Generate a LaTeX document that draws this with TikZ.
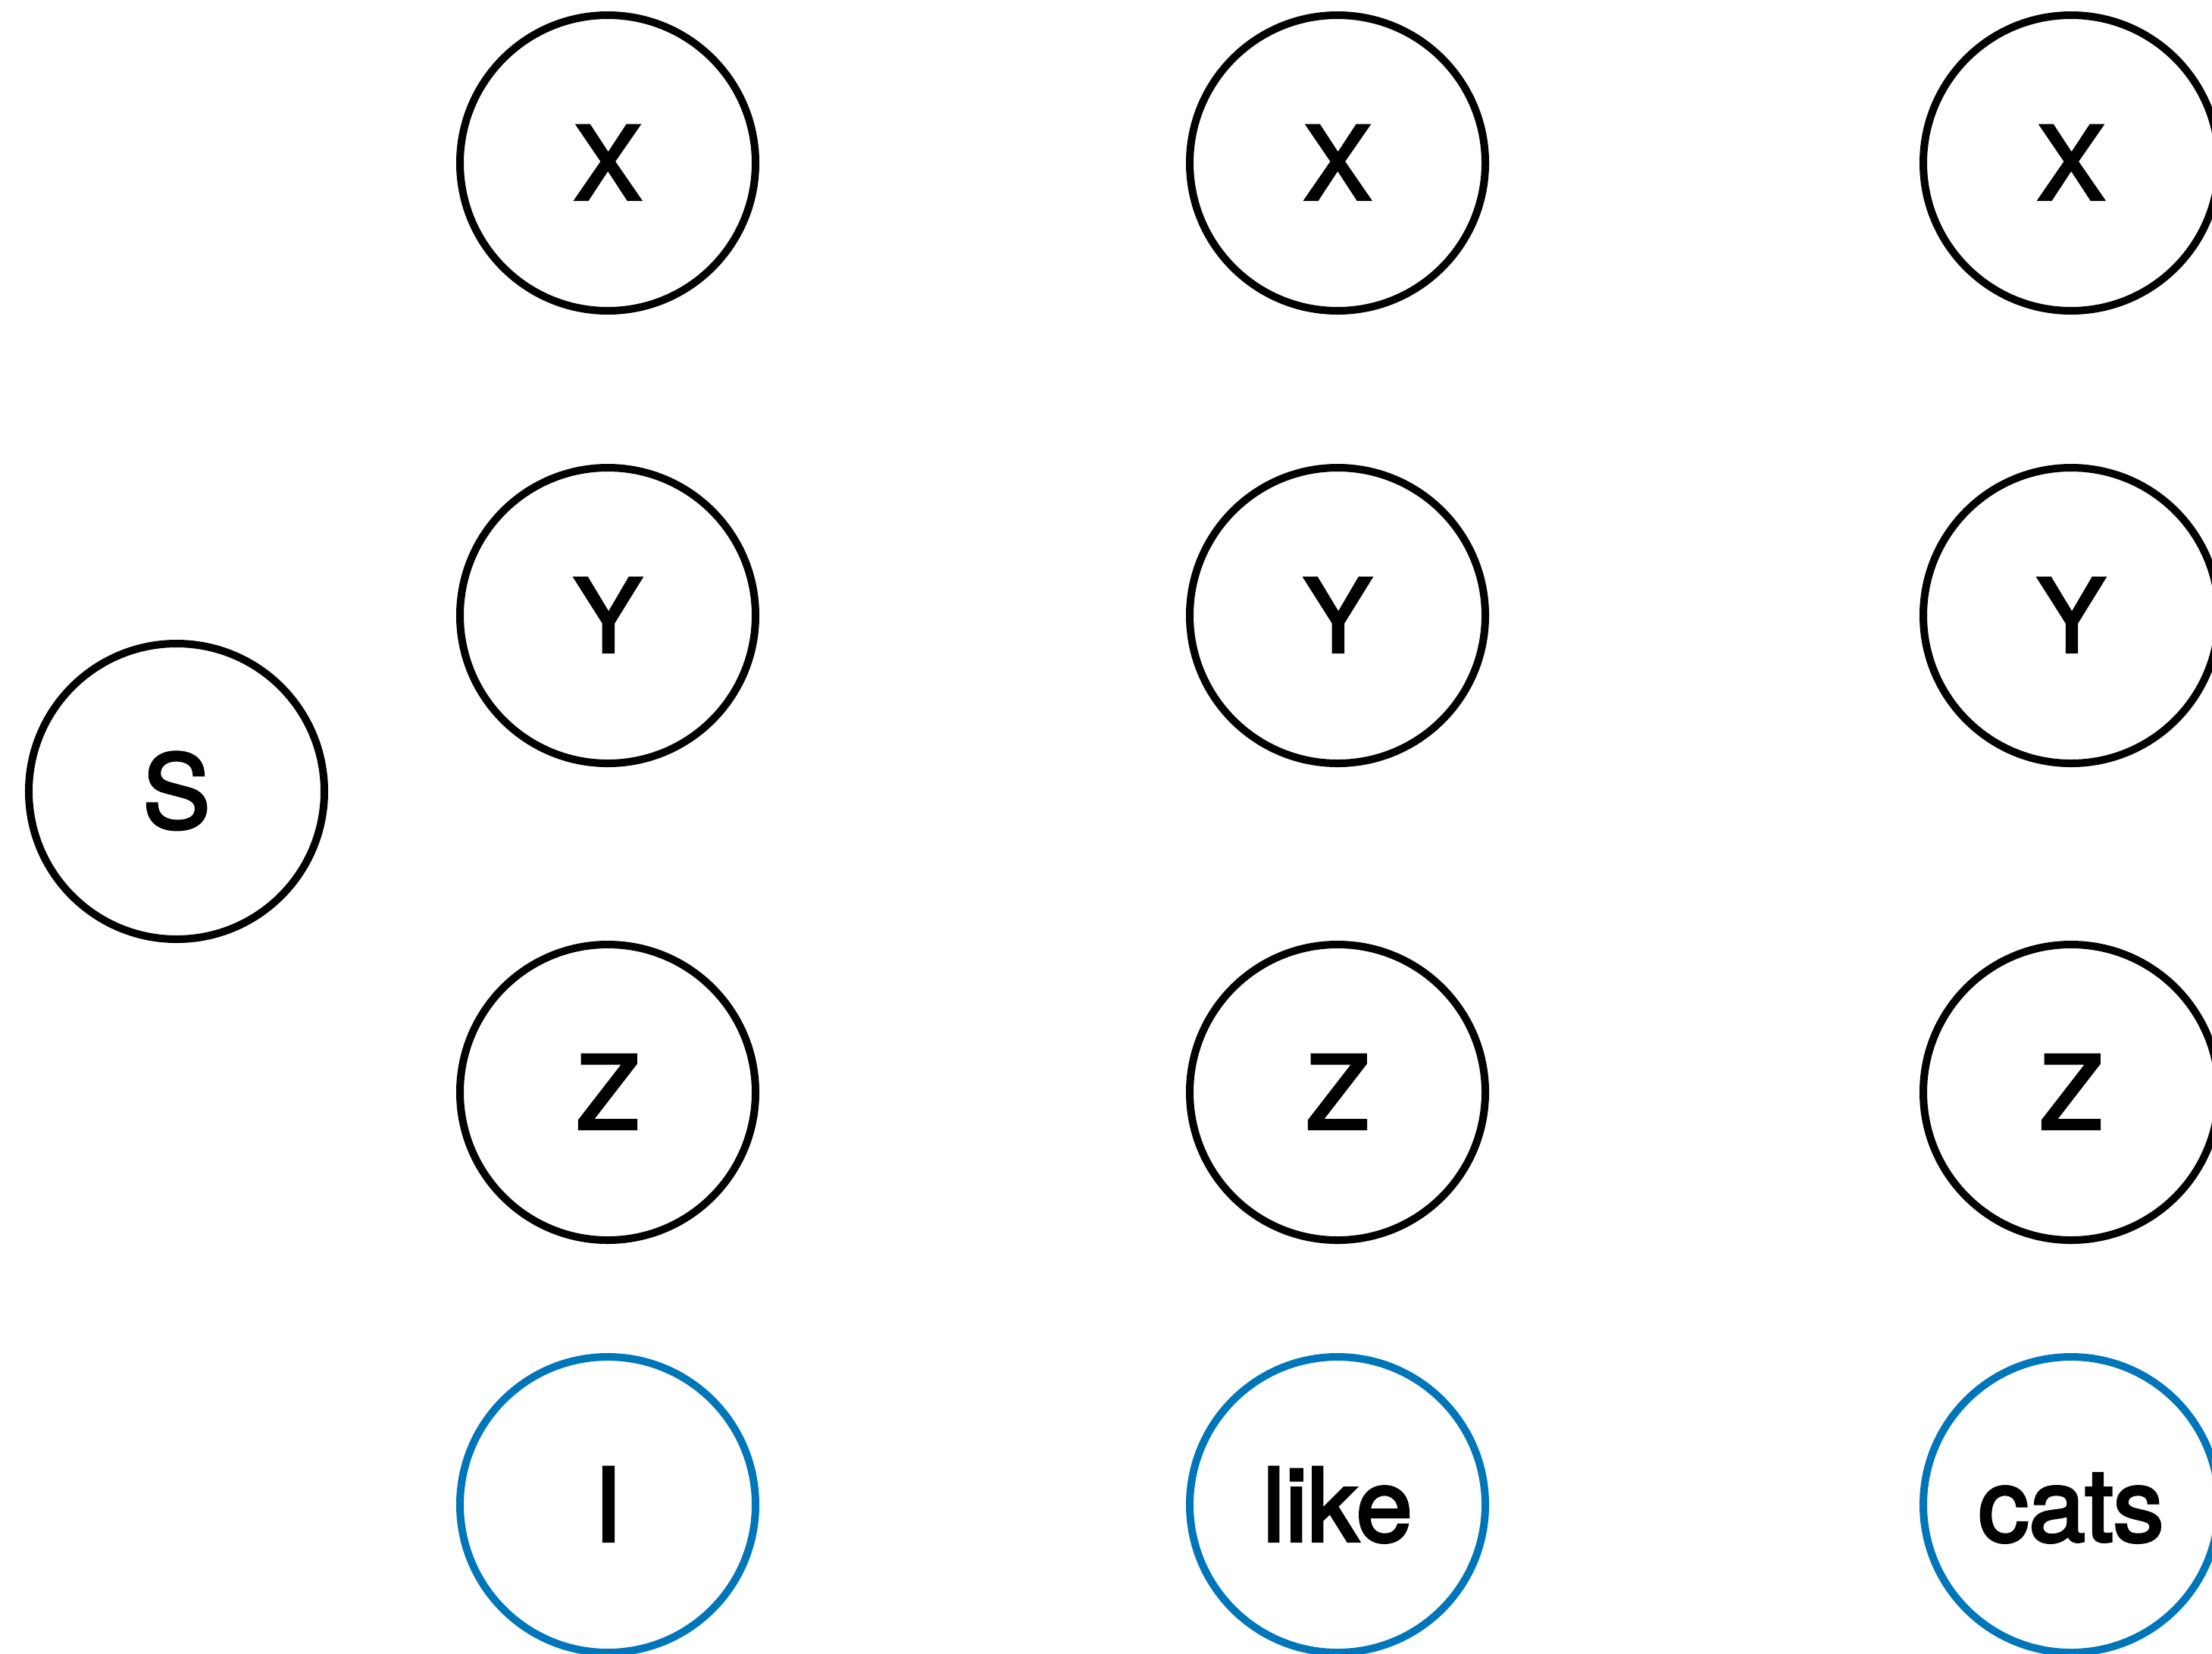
\documentclass[tikz,border=0pt]{standalone}
\usepackage{fontspec}
\newfontface\labelfont{TeX Gyre Heros}[FakeBold=3]
\usepackage{xcolor}
\usepackage{tikz}
\definecolor{wordblue}{RGB}{0,118,186}
\tikzset{
  unit/.style={
    circle,
    draw,
    line width=2.85pt,
    inner sep=0pt,
    minimum size=3.9cm,
    text height=27.3pt,
    text depth=0pt,
    font=\labelfont\fontsize{38}{40}\selectfont
  },
  sym/.style={unit, draw=black},
  word/.style={unit, draw=wordblue}
}

\begin{document}
\begin{tikzpicture}[x=1cm, y=1cm]
    \useasboundingbox (0,0) rectangle (29.19,-21.81);

    \node[sym] (s) at (2.33,-10.44) {S};

    \node[sym] (x1) at (8.02,-2.15) {X};
    \node[sym] (y1) at (8.02,-8.12) {Y};
    \node[sym] (z1) at (8.02,-14.41) {Z};
    \node[word] (w1) at (8.02,-19.85) {I};

    \node[sym] (x2) at (17.65,-2.15) {X};
    \node[sym] (y2) at (17.65,-8.12) {Y};
    \node[sym] (z2) at (17.65,-14.41) {Z};
    \node[word] (w2) at (17.65,-19.85) {like};

    \node[sym] (x3) at (27.33,-2.15) {X};
    \node[sym] (y3) at (27.33,-8.12) {Y};
    \node[sym] (z3) at (27.33,-14.41) {Z};
    \node[word] (w3) at (27.33,-19.85) {cats};
  \end{tikzpicture}
\end{document}
